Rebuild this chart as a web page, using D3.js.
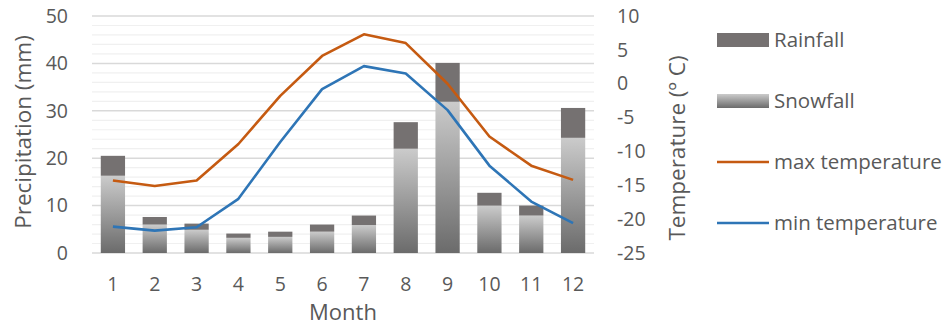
<!DOCTYPE html>
<html>
<head>
<meta charset="utf-8">
<script src="https://cdn.jsdelivr.net/npm/d3@7/dist/d3.min.js"></script>
<style>
  html, body { margin: 0; padding: 0; background: #fff; }
  svg { display: block; font-family: "Open Sans", sans-serif; }
</style>
</head>
<body>
<svg id="chart" width="945" height="326"></svg>
<script>
// Monthly precipitation (mm) and temperature (°C)
const months = [1, 2, 3, 4, 5, 6, 7, 8, 9, 10, 11, 12];
const snowfall = [16.3, 6.0, 4.9, 3.2, 3.4, 4.5, 5.9, 22.0, 31.9, 10.0, 7.9, 24.3];
const rainfall = [4.2, 1.6, 1.3, 0.9, 1.1, 1.5, 2.0, 5.6, 8.2, 2.7, 2.1, 6.3];
const maxTemp = [-14.3, -15.1, -14.3, -8.9, -1.8, 4.1, 7.3, 6.0, 0.0, -7.8, -12.1, -14.2];
const minTemp = [-21.1, -21.7, -21.2, -17.0, -8.6, -0.8, 2.6, 1.5, -3.9, -12.1, -17.4, -20.6];
const precipTicks = [0, 10, 20, 30, 40, 50];
const tempTicks = [-25, -20, -15, -10, -5, 0, 5, 10];

const svg = d3.select("#chart");
const textColor = "#595959";
const plot = { left: 92, right: 594, top: 16, bottom: 253 };
const tickFont = "19.5px";

const x = d3.scaleBand().domain(months).range([plot.left, plot.right]).paddingInner(0.42).paddingOuter(0.21);
const yP = d3.scaleLinear().domain([0, 50]).range([plot.bottom, plot.top]);
const yT = d3.scaleLinear().domain([-25, 10]).range([plot.bottom, plot.top]);

// Gradient fill for the snowfall bars
const defs = svg.append("defs");
["snowGrad", "snowGradLegend"].forEach(id => {
  const g = defs.append("linearGradient").attr("id", id)
    .attr("x1", 0).attr("y1", 0).attr("x2", 0).attr("y2", 1);
  g.append("stop").attr("offset", "0%").attr("stop-color", "#cbcbcb");
  g.append("stop").attr("offset", "100%").attr("stop-color", "#6b6b6b");
});

// Minor gridlines every 2 mm, major every 10 mm
const minor = d3.range(0, 51, 2).filter(v => v % 10 !== 0);
svg.append("g").selectAll("line").data(minor).join("line")
  .attr("x1", plot.left).attr("x2", plot.right)
  .attr("y1", d => yP(d)).attr("y2", d => yP(d))
  .attr("stroke", "#f0f0f0").attr("stroke-width", 1.2);
svg.append("g").selectAll("line").data(precipTicks).join("line")
  .attr("x1", plot.left).attr("x2", plot.right)
  .attr("y1", d => yP(d)).attr("y2", d => yP(d))
  .attr("stroke", "#d9d9d9").attr("stroke-width", 1.5);

// Stacked bars: snowfall at the bottom, rainfall on top
const bars = svg.append("g");
bars.selectAll("rect.snow").data(months).join("rect").attr("class", "snow")
  .attr("x", d => x(d)).attr("width", x.bandwidth())
  .attr("y", (d, i) => yP(snowfall[i]))
  .attr("height", (d, i) => yP(0) - yP(snowfall[i]))
  .attr("fill", "url(#snowGrad)");
bars.selectAll("rect.rain").data(months).join("rect").attr("class", "rain")
  .attr("x", d => x(d)).attr("width", x.bandwidth())
  .attr("y", (d, i) => yP(snowfall[i] + rainfall[i]))
  .attr("height", (d, i) => yP(snowfall[i]) - yP(snowfall[i] + rainfall[i]))
  .attr("fill", "#757171");

// Temperature lines on the secondary axis
const line = d3.line().x((d, i) => x(months[i]) + x.bandwidth() / 2).y(d => yT(d));
svg.append("path").datum(maxTemp).attr("d", line)
  .attr("fill", "none").attr("stroke", "#c55a11").attr("stroke-width", 2.6).attr("stroke-linejoin", "round");
svg.append("path").datum(minTemp).attr("d", line)
  .attr("fill", "none").attr("stroke", "#2e75b6").attr("stroke-width", 2.6).attr("stroke-linejoin", "round");

const plain = d => String(d);

// Left axis
const axL = svg.append("g").attr("transform", `translate(${plot.left},0)`)
  .call(d3.axisLeft(yP).tickValues(precipTicks).tickFormat(plain).tickSize(0).tickPadding(24));
axL.select(".domain").remove();
axL.selectAll("text").attr("fill", textColor).style("font-size", tickFont).style("font-family", "Open Sans");

// Right axis
const axR = svg.append("g").attr("transform", `translate(${plot.right},0)`)
  .call(d3.axisRight(yT).tickValues(tempTicks).tickFormat(plain).tickSize(0).tickPadding(23));
axR.select(".domain").remove();
axR.selectAll("text").attr("fill", textColor).style("font-size", tickFont).style("font-family", "Open Sans");

// Bottom axis
const axB = svg.append("g").attr("transform", `translate(0,${plot.bottom})`)
  .call(d3.axisBottom(x).tickFormat(plain).tickSize(0).tickPadding(24));
axB.select(".domain").remove();
axB.selectAll("text").attr("fill", textColor).style("font-size", tickFont).style("font-family", "Open Sans");

// Axis titles
svg.append("text").attr("transform", "translate(31,132) rotate(-90)")
  .attr("text-anchor", "middle").attr("fill", textColor).style("font-size", "22.5px")
  .text("Precipitation (mm)");
svg.append("text").attr("transform", "translate(685,148) rotate(-90)")
  .attr("text-anchor", "middle").attr("fill", textColor).style("font-size", "22.5px")
  .text("Temperature (º C)");
svg.append("text").attr("x", 343).attr("y", 320)
  .attr("text-anchor", "middle").attr("fill", textColor).style("font-size", "22px")
  .text("Month");

// Legend
const legendItems = [
  { label: "Rainfall", type: "rect", fill: "#757171" },
  { label: "Snowfall", type: "rect", fill: "url(#snowGradLegend)" },
  { label: "max temperature", type: "line", stroke: "#c55a11" },
  { label: "min temperature", type: "line", stroke: "#2e75b6" }
];
const lg = svg.append("g");
legendItems.forEach((it, i) => {
  const cy = 40 + i * 61;
  if (it.type === "rect") {
    lg.append("rect").attr("x", 717).attr("y", cy - 7).attr("width", 52).attr("height", 14).attr("fill", it.fill);
  } else {
    lg.append("line").attr("x1", 717).attr("x2", 769).attr("y1", cy).attr("y2", cy)
      .attr("stroke", it.stroke).attr("stroke-width", 2.6);
  }
  lg.append("text").attr("x", 774).attr("y", cy).attr("dy", "0.35em")
    .attr("fill", textColor).style("font-size", "20.5px").text(it.label);
});
</script>
</body>
</html>
